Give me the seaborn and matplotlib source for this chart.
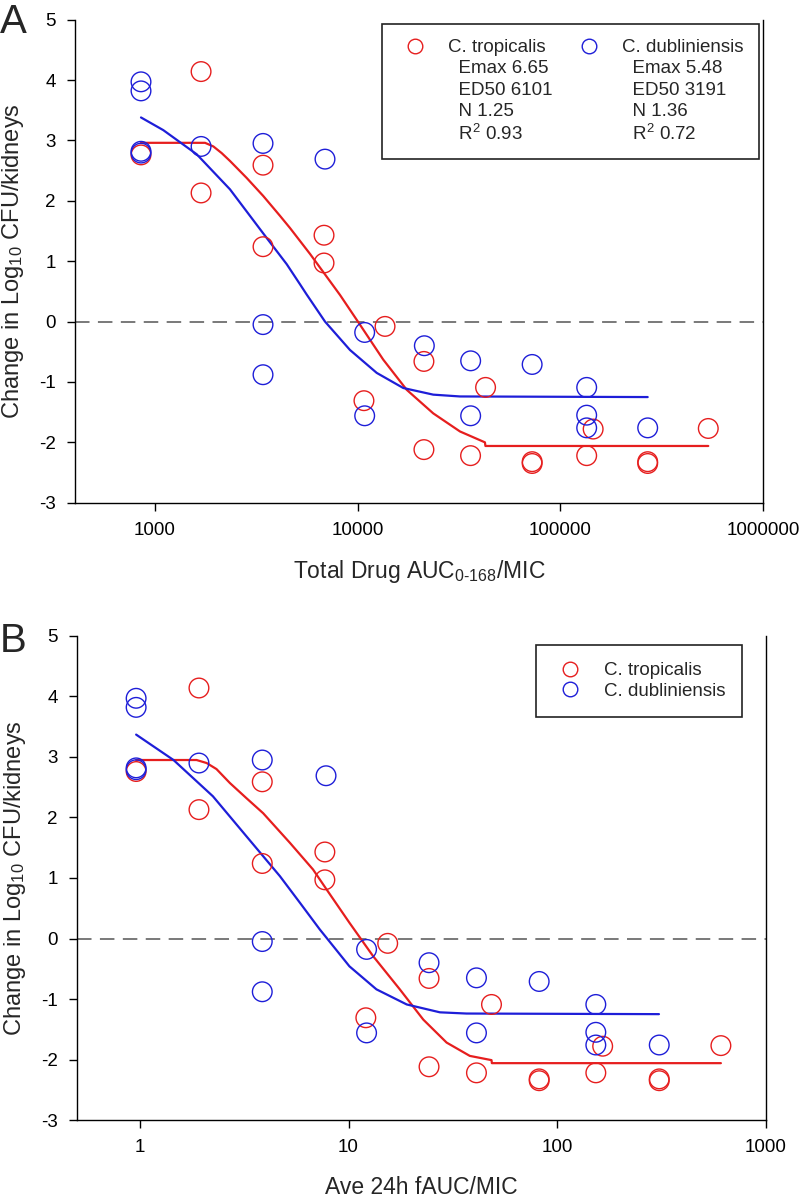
import pandas as pd
import seaborn as sns
import matplotlib.pyplot as plt
from matplotlib.lines import Line2D
from matplotlib.ticker import FixedLocator, NullLocator, FuncFormatter

sns.set_style("ticks")
plt.rcParams['font.family'] = ['Liberation Sans', 'DejaVu Sans']
plt.rcParams['mathtext.fontset'] = 'custom'
plt.rcParams['mathtext.rm'] = 'Liberation Sans'
plt.rcParams['mathtext.it'] = 'Liberation Sans:italic'
plt.rcParams['mathtext.bf'] = 'Liberation Sans:bold'
plt.rcParams['axes.unicode_minus'] = False

RED = '#e61e1e'
BLUE = '#1e1ed8'

# change in log10 CFU/kidneys (same animals in both panels)
trop_change = [2.76, 4.14, 2.13, 2.59, 1.24, 1.43, 0.97, -1.31, -0.08, -0.66, -2.12,
               -2.22, -1.09, -2.32, -2.35, -2.22, -1.78, -2.32, -2.35, -1.77]
dub_change = [3.97, 3.82, 2.82, 2.79, 2.90, 2.95, -0.05, -0.88, 2.69, -0.18, -1.56,
              -0.40, -0.65, -1.56, -0.71, -1.09, -1.55, -1.76, -1.76]

# total drug AUC0-168/MIC (panel A)
trop_total = [853, 1688, 1688, 3412, 3412, 6824, 6824, 10740, 13650, 21230, 21230,
              36060, 42770, 72600, 72600, 134900, 145200, 269800, 269800, 537000]
dub_total = [853, 853, 853, 853, 1688, 3412, 3412, 3412, 6900, 10830, 10830,
             21330, 36100, 36100, 72600, 134900, 134900, 134900, 269800]

# ave 24h fAUC/MIC (panel B)
trop_free = [0.96, 1.92, 1.92, 3.86, 3.86, 7.7, 7.7, 12.1, 15.4, 24.3, 24.3,
             41.0, 48.4, 81.9, 81.9, 153, 165, 308, 308, 608]
dub_free = [0.96, 0.96, 0.96, 0.96, 1.92, 3.86, 3.86, 3.86, 7.8, 12.2, 12.2,
            24.3, 41.0, 41.0, 81.9, 153, 153, 153, 308]

# fitted Emax curves
trop_fit_total_x = [853, 1766, 1941, 2133, 2344, 2831, 3420, 4140, 4634, 5821,
                    7295, 8185, 10260, 13370, 17460, 23600, 31990, 42460, 42700, 537000]
trop_fit_total_y = [2.96, 2.96, 2.90, 2.79, 2.66, 2.38, 2.08, 1.75, 1.55, 1.12,
                    0.67, 0.44, -0.05, -0.63, -1.13, -1.52, -1.82, -2.00, -2.06, -2.06]
dub_fit_total_x = [853, 1099, 1607, 2344, 3420, 4467, 5188, 5598, 6900, 9162, 12420, 16790,
                   23600, 31990, 269800]
dub_fit_total_y = [3.38, 3.17, 2.77, 2.19, 1.46, 0.95, 0.62, 0.45, 0.0, -0.47, -0.85, -1.10,
                   -1.21, -1.24, -1.25]

trop_fit_free_x = [0.96, 1.87, 2.09, 2.33, 2.70, 3.24, 3.90, 5.24, 6.76, 7.85, 10.1, 13.1,
                   17.6, 22.8, 29.5, 38.1, 48.4, 48.6, 608]
trop_fit_free_y = [2.95, 2.95, 2.90, 2.80, 2.57, 2.32, 2.07, 1.58, 1.14, 0.81, 0.26, -0.29,
                   -0.84, -1.34, -1.72, -1.94, -2.01, -2.06, -2.06]
dub_fit_free_x = [0.96, 1.45, 2.24, 3.24, 4.69, 5.85, 7.28, 7.85, 10.1, 13.6, 19.0, 27.4,
                  36.7, 307]
dub_fit_free_y = [3.37, 2.95, 2.35, 1.69, 1.03, 0.59, 0.15, 0.01, -0.46, -0.84, -1.09, -1.22,
                  -1.24, -1.25]


def draw_panel(ax, tx, dx, tfx, tfy, dfx, dfy, xticks, xlim):
    ax.set_xscale('log')
    pts_t = pd.DataFrame({'x': tx, 'y': trop_change})
    pts_d = pd.DataFrame({'x': dx, 'y': dub_change})
    ax.axhline(0, color='#555555', lw=1.1, dashes=(9.5, 5.5), zorder=1)
    sns.scatterplot(data=pts_t, x='x', y='y', ax=ax, s=200, marker='o',
                    facecolors='none', edgecolor=RED, linewidth=1.0, legend=False, zorder=3)
    sns.scatterplot(data=pts_d, x='x', y='y', ax=ax, s=200, marker='o',
                    facecolors='none', edgecolor=BLUE, linewidth=1.0, legend=False, zorder=3)
    sns.lineplot(x=tfx, y=tfy, ax=ax, color=RED, lw=1.6, estimator=None, sort=False, zorder=2)
    sns.lineplot(x=dfx, y=dfy, ax=ax, color=BLUE, lw=1.6, estimator=None, sort=False, zorder=2)

    ax.set_xlim(*xlim)
    ax.set_ylim(-3, 5)
    ax.xaxis.set_major_locator(FixedLocator(xticks))
    ax.xaxis.set_minor_locator(NullLocator())
    ax.xaxis.set_major_formatter(FuncFormatter(lambda v, p: f'{int(v)}'))
    ax.set_yticks(range(-3, 6))
    ax.tick_params(axis='both', which='major', labelsize=13.5, length=5.5, width=1.0,
                   direction='out', pad=8.5, color='black', labelcolor='black',
                   right=False, top=False)
    for side in ['left', 'bottom', 'right']:
        ax.spines[side].set_color('black')
        ax.spines[side].set_linewidth(1.0)
    ax.spines['top'].set_visible(False)
    ax.set_ylabel('Change in Log$_{10}$ CFU/kidneys', fontsize=17)
    ax.yaxis.set_label_coords(-0.071, 0.5)


fig = plt.figure(figsize=(8, 11.97), dpi=100)
axA = fig.add_axes([0.09375, 0.580, 0.86, 0.4036])
axB = fig.add_axes([0.09625, 0.0643, 0.86125, 0.4044])

draw_panel(axA, trop_total, dub_total, trop_fit_total_x, trop_fit_total_y,
           dub_fit_total_x, dub_fit_total_y, [1e3, 1e4, 1e5, 1e6], (403, 1e6))
draw_panel(axB, trop_free, dub_free, trop_fit_free_x, trop_fit_free_y,
           dub_fit_free_x, dub_fit_free_y, [1, 10, 100, 1000], (0.5, 1000))

axA.set_xlabel('Total Drug AUC$_{\\mathregular{0\\text{-}168}}$/MIC', fontsize=16.5)
axA.xaxis.set_label_coords(0.5, -0.115)
axB.set_xlabel('Ave 24h fAUC/MIC', fontsize=16.5)
axB.xaxis.set_label_coords(0.5, -0.115)


def circle(c):
    return Line2D([], [], ls='none', marker='o', ms=10.5, mfc='none', mec=c, mew=1.0)


blank = Line2D([], [], ls='none')
handlesA = [circle(RED), blank, blank, blank, blank, circle(BLUE), blank, blank, blank, blank]
labelsA = ['C. tropicalis', '  Emax 6.65', '  ED50 6101', '  N 1.25', '  R$^2$ 0.93',
           'C. dubliniensis', '  Emax 5.48', '  ED50 3191', '  N 1.36', '  R$^2$ 0.72']
legA = axA.legend(handlesA, labelsA, ncol=2, loc='upper right', bbox_to_anchor=(0.994, 0.991),
                  borderaxespad=0, fontsize=13.5, frameon=True, fancybox=False,
                  edgecolor='#222222', framealpha=1, borderpad=0.8, handlelength=1.9,
                  handletextpad=0.82, columnspacing=1.0, labelspacing=0.22)
legA.get_frame().set_linewidth(1.2)

legB = axB.legend([circle(RED), circle(BLUE)], ['C. tropicalis', 'C. dubliniensis'],
                  loc='upper right', bbox_to_anchor=(0.965, 0.981), borderaxespad=0,
                  fontsize=13.5, frameon=True, fancybox=False, edgecolor='#222222',
                  framealpha=1, borderpad=0.9, handlelength=1.9, handletextpad=0.82,
                  labelspacing=0.2)
legB.get_frame().set_linewidth(1.2)

fig.text(0.0, 0.9724, 'A', fontsize=29, va='baseline', ha='left')
fig.text(0.0, 0.4553, 'B', fontsize=29, va='baseline', ha='left')

plt.savefig('out.png', dpi=100)
